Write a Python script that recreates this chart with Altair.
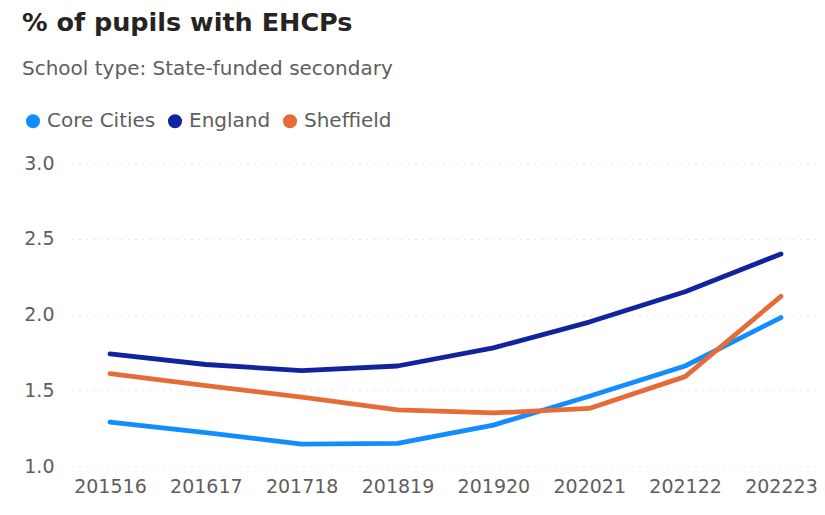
import altair as alt
import pandas as pd

years = ["201516", "201617", "201718", "201819", "201920", "202021", "202122", "202223"]
core_cities = [1.29, 1.22, 1.145, 1.15, 1.27, 1.46, 1.66, 1.98]
england = [1.74, 1.67, 1.63, 1.66, 1.78, 1.95, 2.15, 2.40]
sheffield = [1.61, 1.53, 1.455, 1.37, 1.35, 1.38, 1.59, 2.12]
series = ["Core Cities", "England", "Sheffield"]
colors = ["#118DFF", "#12239E", "#E66C37"]
y_ticks = [1.0, 1.5, 2.0, 2.5, 3.0]

rows = []
for name, vals in zip(series, [core_cities, england, sheffield]):
    for yr, v in zip(years, vals):
        rows.append({"Year": yr, "Area": name, "Value": v})
df = pd.DataFrame(rows)

font = "DejaVu Sans"

chart = alt.Chart(df).mark_line(strokeWidth=4.8, strokeCap="round", strokeJoin="round").encode(
    x=alt.X("Year:O", sort=years, scale=alt.Scale(type="point", padding=0.386, align=0.513),
            axis=alt.Axis(title=None, labelAngle=0, labelFontSize=19, labelColor="#605e5c",
                          labelFont=font, labelPadding=11, ticks=False, domain=False, grid=False)),
    y=alt.Y("Value:Q", scale=alt.Scale(domain=[1.0, 3.0], nice=False, zero=False),
            axis=alt.Axis(title=None, values=y_ticks, format=".1f", labelFontSize=19,
                          labelColor="#605e5c", labelFont=font, labelPadding=18, ticks=False,
                          domain=False, grid=True, gridColor="#d0d0d0", gridDash=[1, 6],
                          gridWidth=1.2)),
    color=alt.Color("Area:N", scale=alt.Scale(domain=series, range=colors),
                    legend=alt.Legend(title=None, orient="none", legendX=-49, legendY=-52,
                                      direction="horizontal", symbolType="circle",
                                      symbolSize=50, symbolStrokeWidth=7,
                                      labelFontSize=20, labelColor="#605e5c", labelFont=font,
                                      labelOffset=4, columnPadding=1)),
).properties(
    width=745,
    height=303,
    title=alt.TitleParams(
        text="% of pupils with EHCPs",
        subtitle="School type: State-funded secondary",
        anchor="start",
        frame="group",
        dx=-50,
        offset=32,
        font=font,
        fontSize=25.5,
        fontWeight="bold",
        color="#252423",
        subtitleFont=font,
        subtitleFontSize=20,
        subtitleColor="#605e5c",
        subtitlePadding=23,
    ),
    autosize=alt.AutoSizeParams(type="none"),
    padding={"left": 64, "top": 155, "right": 0, "bottom": 40},
).configure_view(stroke=None)

chart.save("out.html", embed_options={"renderer": "svg", "actions": False})
